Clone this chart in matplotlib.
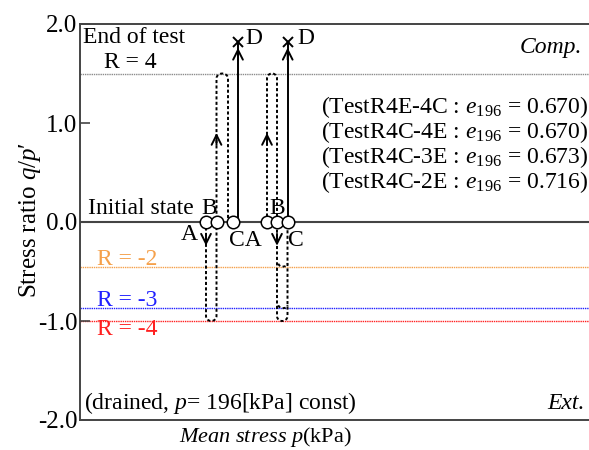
import numpy as np
import matplotlib.pyplot as plt

plt.rcParams["font.family"] = ["Liberation Serif", "DejaVu Serif"]
plt.rcParams["mathtext.fontset"] = "custom"
plt.rcParams["mathtext.rm"] = "Liberation Serif"
plt.rcParams["mathtext.it"] = "Liberation Serif:italic"
plt.rcParams["axes.unicode_minus"] = False

# stress ratio levels (q/p') of the reversal lines
R_LEVELS = {"R = 4": 1.5, "R = -2": -0.45, "R = -3": -0.87, "R = -4": -1.0}
R_COLORS = {"R = 4": "#8c8c8c", "R = -2": "#f5a04a", "R = -3": "#2020ff", "R = -4": "#ff2020"}
END_RATIO = 1.82  # end of test (D)

# schematic p positions (no scale on the p axis)
test1_x = [126, 136.5, 148]   # down / up / down columns of TestR4E-4C
test1_solid = 158
test2_x = [187, 197, 207.5]   # up / down / up columns of TestR4C-xE
test2_solid = 207.7
circles_x = [126, 137, 153, 187, 197, 207.5]

test_labels = ["TestR4E-4C", "TestR4C-4E", "TestR4C-3E", "TestR4C-2E"]
void_ratio = ["0.670", "0.670", "0.673", "0.716"]

yticks = [2.0, 1.0, 0.0, -1.0, -2.0]


def u_turn(x0, x1, y, top, h=0.05, n=20):
    """rounded reversal between two columns, touching level y"""
    t = np.linspace(np.pi, 0, n)
    xc = (x0 + x1) / 2
    rx = (x1 - x0) / 2
    if top:
        return xc + rx * np.cos(t), (y - h) + h * np.sin(t)
    return xc + rx * np.cos(t), (y + h) - h * np.sin(t)


def build_path(cols, turns, y0, y1, h=0.05):
    xs, ys = [cols[0]], [y0]
    for i, lev in enumerate(turns):
        top = lev > 0
        yy = lev - h if top else lev + h
        xs.append(cols[i]); ys.append(yy)
        ax_, ay_ = u_turn(cols[i], cols[i + 1], lev, top, h)
        xs += list(ax_); ys += list(ay_)
    xs.append(cols[-1]); ys.append(y1)
    return xs, ys


fig = plt.figure(figsize=(5.89, 4.5), dpi=100)
ax = fig.add_axes([80 / 589, 30 / 450, 509 / 589, 396 / 450])
ax.set_xlim(0, 509)
ax.set_ylim(-2.0, 2.0)

for s in ["left", "top", "bottom"]:
    ax.spines[s].set_color("#444444")
    ax.spines[s].set_linewidth(1.4)
ax.spines["right"].set_visible(False)
ax.set_xticks([])
ax.set_yticks(yticks)
ax.set_yticklabels([f"{v:.1f}" for v in yticks], fontsize=18)
ax.tick_params(axis="y", direction="in", length=7, width=1.2, color="#444444", pad=2)

# reference lines
ax.axhline(0.0, color="#444444", lw=1.5, zorder=1)
for name, lev in R_LEVELS.items():
    ax.axhline(lev, color=R_COLORS[name], lw=1.0, ls=(0, (1, 0.6)), zorder=1)

dot = dict(color="black", lw=1.4, ls=(0, (1.6, 1.2)), zorder=2)

# TestR4E-4C: extension to R=-4, compression to R=4, back to zero
px, py = build_path(test1_x, [R_LEVELS["R = -4"], R_LEVELS["R = 4"]], 0.0, 0.0)
ax.plot(px, py, **dot)
# TestR4C-xE: compression to R=4, extension to R=-4 (and -3, -2)
px, py = build_path(test2_x, [R_LEVELS["R = 4"], R_LEVELS["R = -4"]], 0.0, 0.0)
ax.plot(px, py, **dot)
for name in ["R = -3", "R = -2"]:
    hx, hy = u_turn(test2_x[1] + 1.5, test2_x[2], R_LEVELS[name], False, 0.03)
    ax.plot(hx, hy, **dot)

# final compression to end of test
for xs in [test1_solid, test2_solid]:
    ax.plot([xs, xs], [0.0, END_RATIO], color="black", lw=1.4, zorder=2)
    ax.plot(xs, END_RATIO, marker="x", ms=7, mew=1.4, color="black", zorder=3)

arrow = dict(arrowstyle="->, head_length=0.7, head_width=0.35", lw=1.4,
             color="black", shrinkA=0, shrinkB=0, mutation_scale=10)
for xa, ya, up in [(test1_x[1], 0.9, True), (test2_x[0], 0.9, True),
                   (test1_x[0], -0.24, False), (test2_x[1], -0.24, False),
                   (test1_solid, 1.76, True), (test2_solid, 1.76, True)]:
    d = -0.12 if up else 0.12
    ax.annotate("", xy=(xa, ya), xytext=(xa, ya + d), arrowprops=arrow, zorder=3)

ax.plot(circles_x, [0.0] * len(circles_x), ls="none", marker="o", ms=9,
        mfc="white", mec="black", mew=1.1, zorder=4)

fs = 17
ax.text(3, 1.86, "End of test", fontsize=fs, va="center")
ax.text(50, 1.61, "R = 4", fontsize=fs, va="center", ha="center")
ax.text(502, 1.76, "Comp.", fontsize=fs, va="center", ha="right", style="italic")
ax.text(8, 0.14, "Initial state", fontsize=fs, va="center")
ax.text(129, 0.14, "B", fontsize=fs, va="center", ha="center")
ax.text(197, 0.14, "B", fontsize=fs, va="center", ha="center")
ax.text(109, -0.13, "A", fontsize=fs, va="center", ha="center")
ax.text(165, -0.19, "CA", fontsize=fs, va="center", ha="center")
ax.text(216, -0.19, "C", fontsize=fs, va="center", ha="center")
ax.text(174, 1.85, "D", fontsize=fs, va="center", ha="center")
ax.text(226, 1.85, "D", fontsize=fs, va="center", ha="center")
for name, yy in [("R = -2", -0.38), ("R = -3", -0.79), ("R = -4", -1.09)]:
    ax.text(17, yy, name, fontsize=fs, va="center", color=R_COLORS[name])

for i, (lab, e) in enumerate(zip(test_labels, void_ratio)):
    ax.text(508, 1.16 - 0.253 * i, f"({lab} : $e_{{196}}$ = {e})",
            fontsize=fs, va="center", ha="right")

ax.text(4, -1.83, "(drained, $p$= 196[kPa] const)", fontsize=fs, va="center")
ax.text(505, -1.83, "Ext.", fontsize=fs, va="center", ha="right", style="italic")

fig.text(265 / 589, 1 - 437 / 450, "$Mean\\ stress\\ p$(kPa)", fontsize=16,
         ha="center", va="center")
fig.text(30 / 589, 0.5 + 5 / 450, "Stress ratio $q/p$\u2032", fontsize=18,
         ha="center", va="center", rotation=90)

fig.savefig("out.png", dpi=100)
